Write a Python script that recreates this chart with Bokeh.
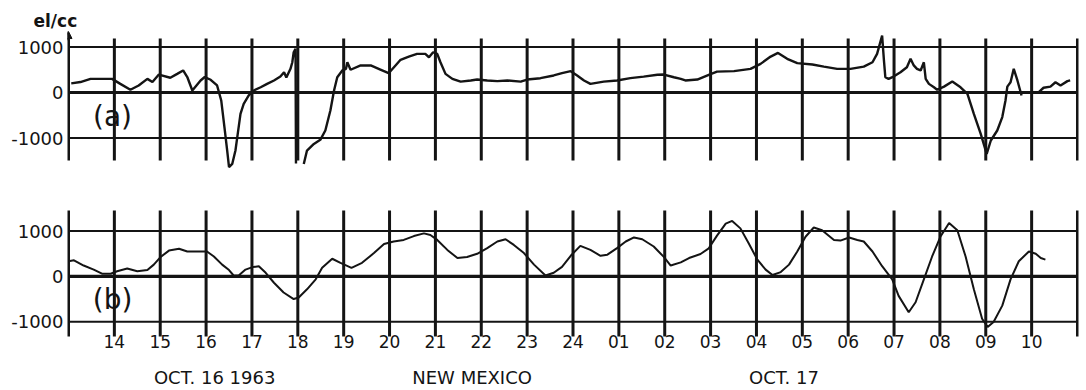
import math
from bokeh.plotting import figure
from bokeh.layouts import column
from bokeh.models import FixedTicker, LinearAxis, Label, Range1d, Arrow, NormalHead, Title
from bokeh.embed import file_html
from bokeh.resources import INLINE

nan = float("nan")

# ---------------- data ----------------
grid_hours = list(range(13, 36))          # hour lines (13 = Oct 16 13h ... 35 = Oct 17 11h)
tick_hours = list(range(14, 35))
tick_labels = ["14", "15", "16", "17", "18", "19", "20", "21", "22", "23", "24",
               "01", "02", "03", "04", "05", "06", "07", "08", "09", "10"]
y_levels = [-1000, 0, 1000]
y_labels = ["-1000", "0", "1000"]
caption_hours = [16.25, 21.8, 28.6]
captions = ["OCT. 16  1963", "NEW MEXICO", "OCT. 17"]

# (a) electron density, el/cc
a_hours = [13.06, 13.26, 13.48, 13.70, 13.95, 14.13, 14.35, 14.53, 14.72, 14.83, 14.97, 15.22,
           15.37, 15.50, 15.59, 15.70, 15.88, 15.97, 16.10, 16.24, 16.33, 16.40, 16.46, 16.50,
           16.57, 16.64, 16.69, 16.75, 16.82, 16.93, 17.04, 17.19, 17.33, 17.48, 17.62, 17.70,
           17.75, 17.84, 17.88, 17.91, 17.95, 17.96, nan,
           18.13, 18.20, 18.35, 18.49, 18.60, 18.71, 18.79, 18.86, 18.97, 19.05, 19.08, 19.15,
           19.37, 19.59, 19.80, 19.98, 20.13, 20.24, 20.42, 20.60, 20.78, 20.86, 20.95, 21.04,
           21.11, 21.22, 21.37, 21.55, 21.77, 21.91, 22.13, 22.35, 22.57, 22.86, 23.00, 23.29,
           23.58, 23.76, 23.95, 24.09, 24.24, 24.38, 24.67, 24.96, 25.25, 25.54, 25.84, 25.98,
           26.20, 26.35, 26.45, 26.71, 27.00, 27.14, 27.51, 27.87, 28.09, 28.31, 28.47, 28.67,
           28.89, 29.22, 29.47, 29.76, 30.05, 30.34, 30.53, 30.63, 30.71, 30.74, 30.78, 30.81,
           30.88, 30.99, 31.14, 31.28, 31.36, 31.43, 31.50, 31.58, 31.65, 31.69, 31.76, 31.87,
           31.94, 32.09, 32.27, 32.45, 32.60, 32.74, 32.89, 33.02, 33.11, 33.25, 33.36, 33.43,
           33.47, 33.54, 33.61, 33.69, 33.78, nan,
           34.15, 34.26, 34.41, 34.52, 34.63, 34.78, 34.84]
a_vals = [200, 230, 300, 300, 300, 190, 60, 155, 300, 230, 395, 325,
          410, 485, 340, 45, 265, 340, 280, 155, -175, -760, -1275, -1640,
          -1570, -1275, -910, -470, -250, -65, 45, 115, 190, 265, 350, 445,
          330, 520, 665, 885, 960, -1560, nan,
          -1570, -1275, -1130, -1040, -835, -395, 45, 335, 485, 520, 665, 500,
          595, 595, 505, 425, 595, 720, 790, 850, 850, 775, 885, 850,
          665, 410, 300, 240, 265, 285, 265, 250, 265, 240, 285, 315,
          375, 425, 470, 375, 265, 190, 240, 265, 315, 350, 390, 395,
          335, 300, 265, 285, 405, 460, 470, 520, 630, 790, 870, 740,
          645, 615, 570, 520, 520, 570, 665, 850, 1140, 1250, 700, 335,
          300, 350, 445, 555, 740, 595, 520, 485, 665, 300, 190, 115,
          60, 130, 240, 115, -30, -470, -910, -1350, -1055, -835, -540, -175,
          130, 225, 520, 265, -65, nan,
          5, 105, 130, 225, 155, 250, 265]

# (b) electron density, el/cc
b_hours = [13.00, 13.12, 13.33, 13.55, 13.73, 13.92, 14.06, 14.28, 14.50, 14.72, 14.86, 15.01,
           15.19, 15.41, 15.59, 15.81, 16.02, 16.17, 16.35, 16.50, 16.60, 16.71, 16.86, 17.01,
           17.15, 17.30, 17.48, 17.69, 17.91, 18.02, 18.20, 18.39, 18.53, 18.75, 18.93, 19.17,
           19.40, 19.66, 19.88, 20.09, 20.31, 20.53, 20.75, 20.89, 21.04, 21.26, 21.48, 21.69,
           21.91, 22.13, 22.35, 22.53, 22.71, 22.93, 23.15, 23.40, 23.58, 23.76, 23.95, 24.16,
           24.38, 24.60, 24.75, 24.96, 25.15, 25.33, 25.51, 25.76, 25.98, 26.13, 26.35, 26.53,
           26.78, 26.96, 27.14, 27.33, 27.47, 27.65, 27.83, 28.02, 28.20, 28.35, 28.53, 28.71,
           28.89, 29.07, 29.25, 29.43, 29.69, 29.83, 30.02, 30.20, 30.34, 30.53, 30.74, 30.96,
           31.10, 31.32, 31.47, 31.65, 31.83, 32.01, 32.20, 32.38, 32.56, 32.74, 32.92, 33.04,
           33.17, 33.36, 33.54, 33.72, 33.94, 34.09, 34.20, 34.30]
b_vals = [335, 355, 240, 150, 60, 60, 115, 175, 115, 140, 260, 430,
          570, 610, 550, 550, 550, 440, 260, 140, 20, 20, 150, 205,
          225, 80, -140, -355, -500, -465, -285, -65, 190, 390, 300, 190,
          300, 515, 715, 770, 805, 890, 950, 915, 805, 585, 405, 430,
          500, 625, 770, 820, 695, 515, 260, 20, 80, 210, 455, 675,
          585, 455, 480, 625, 770, 860, 820, 660, 430, 240, 310, 405,
          495, 620, 900, 1165, 1225, 1060, 730, 370, 150, 30, 95, 260,
          550, 875, 1080, 1020, 805, 790, 860, 805, 770, 550, 225, -65,
          -430, -790, -570, -65, 440, 875, 1180, 1020, 440, -285, -935, -1115,
          -1005, -645, -65, 335, 550, 500, 405, 370]

# ---------------- styling ----------------
INK = "#141414"
FONT = "DejaVu Sans"
W = 1086
PX_PER_HOUR = 45.86
pad = 1.0 / PX_PER_HOUR
xr = (grid_hours[0] - pad, grid_hours[-1] + pad)


def y_axis():
    ax = LinearAxis(ticker=FixedTicker(ticks=y_levels),
                    major_label_overrides=dict(zip(y_levels, y_labels)))
    ax.axis_line_color = None
    ax.major_tick_line_color = None
    ax.minor_tick_line_color = None
    ax.major_tick_out = 0
    ax.major_label_standoff = 4
    ax.major_label_text_font = FONT
    ax.major_label_text_font_size = "18px"
    ax.major_label_text_color = INK
    return ax


def panel(height, yr, top, bottom, vline_lo, vline_hi):
    p = figure(width=W, height=height, output_backend="svg", toolbar_location=None,
               x_range=Range1d(*xr), y_range=Range1d(*yr),
               x_axis_location=None, y_axis_location=None,
               min_border_left=67, min_border_right=8,
               min_border_top=top, min_border_bottom=bottom)
    p.outline_line_color = None
    p.xgrid.visible = False
    p.ygrid.visible = False
    p.background_fill_color = "white"
    p.border_fill_color = "white"
    p.add_layout(y_axis(), "left")
    # hour lines
    p.segment(x0=grid_hours, x1=grid_hours, y0=vline_lo, y1=vline_hi,
              line_width=3, line_color=INK)
    # level lines
    p.segment(x0=grid_hours[0], x1=grid_hours[-1], y0=[-1000, 1000], y1=[-1000, 1000],
              line_width=2, line_color=INK)
    p.segment(x0=grid_hours[0], x1=grid_hours[-1], y0=0, y1=0,
              line_width=3.2, line_color=INK)
    return p


# panel (a)
pa = panel(180, (-1714, 1363), 30, 10, -1495, 1187)
pa.line(a_hours, a_vals, line_width=2.4, line_color=INK)
pa.add_layout(Arrow(end=NormalHead(size=7, fill_color=INK, line_color=INK, line_width=1),
                    x_start=grid_hours[0], y_start=1150, x_end=grid_hours[0], y_end=1340,
                    line_width=3, line_color=INK))
pa.add_layout(Label(x=13.96, y=-530, text="(a)", text_font=FONT, text_font_size="28px",
                    text_align="center", text_baseline="middle", text_color=INK))
pa.add_layout(Title(text="el/cc", align="left", offset=-34, standoff=0,
                    text_font=FONT, text_font_size="17px", text_font_style="bold",
                    text_color=INK), "above")

# panel (b)
pb = panel(210, (-1326, 1609), 23, 52, -1450, 1457)
pb.line(b_hours, b_vals, line_width=2.0, line_color=INK)
pb.add_layout(Label(x=13.96, y=-500, text="(b)", text_font=FONT, text_font_size="28px",
                    text_align="center", text_baseline="middle", text_color=INK))

xax = LinearAxis(ticker=FixedTicker(ticks=tick_hours),
                 major_label_overrides=dict(zip(tick_hours, tick_labels)))
xax.axis_line_color = None
xax.major_tick_line_color = None
xax.minor_tick_line_color = None
xax.major_tick_out = 0
xax.major_label_standoff = -2
xax.major_label_text_font = FONT
xax.major_label_text_font_size = "17px"
xax.major_label_text_color = INK
pb.add_layout(xax, "below")

cax = LinearAxis(ticker=FixedTicker(ticks=caption_hours),
                 major_label_overrides=dict(zip(caption_hours, captions)))
cax.axis_line_color = None
cax.major_tick_line_color = None
cax.minor_tick_line_color = None
cax.major_tick_out = 0
cax.major_label_standoff = 16
cax.major_label_text_font = FONT
cax.major_label_text_font_size = "18px"
cax.major_label_text_color = INK
pb.add_layout(cax, "below")

layout = column(pa, pb, spacing=0)
open("out.html", "w").write(file_html(layout, INLINE))
